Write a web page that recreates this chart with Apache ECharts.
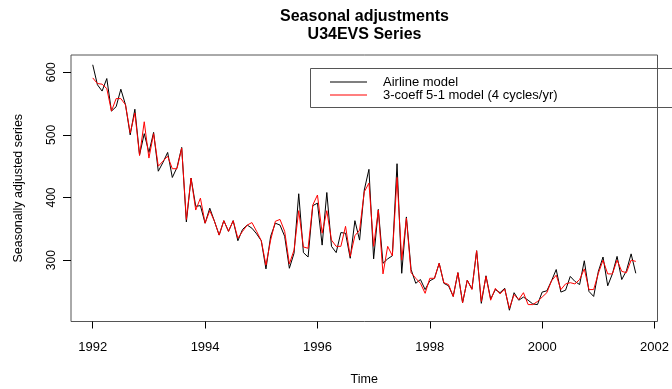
<!DOCTYPE html>
<html>
<head>
<meta charset="utf-8">
<title>Seasonal adjustments</title>
<script src="https://cdn.jsdelivr.net/npm/echarts@6/dist/echarts.min.js"></script>
<style>
  html, body { margin: 0; padding: 0; background: #fff; }
  #chart { width: 672px; height: 389px; }
</style>
</head>
<body>
<div id="chart"></div>
<script>
// monthly series, Jan 1992 .. Sep 2001
const startYear = 1992;

const airline = [
  612, 580, 570, 590, 538, 545, 573, 548, 500, 541, 468, 502,
  472, 504, 442, 456, 472, 432, 448, 480, 361, 431, 386, 387,
  359, 383, 362, 340, 363, 346, 363, 331, 349, 356, 351, 342,
  331, 286, 338, 359, 356, 338, 287, 311, 406, 312, 305, 387,
  391, 324, 408, 322, 312, 344, 343, 303, 363, 332, 412, 445,
  302, 381, 295, 302, 307, 454, 279, 369, 285, 263, 269, 253,
  267, 271, 295, 263, 259, 242, 280, 232, 268, 254, 315, 231,
  275, 238, 253, 248, 255, 220, 248, 236, 241, 236, 230, 229,
  249, 251, 267, 285, 249, 252, 274, 266, 261, 299, 250, 242,
  282, 305, 259, 278, 306, 269, 283, 310, 279
];

const threeCoeff = [
  591, 582, 581, 574, 538, 558, 558, 548, 503, 535, 467, 521,
  463, 502, 450, 458, 466, 446, 446, 479, 365, 431, 380, 399,
  359, 379, 362, 340, 363, 346, 363, 335, 346, 356, 360, 346,
  331, 292, 332, 362, 365, 346, 294, 316, 379, 321, 319, 388,
  404, 343, 379, 332, 322, 322, 354, 306, 339, 348, 409, 423,
  322, 380, 278, 322, 307, 432, 300, 367, 280, 271, 263, 247,
  271, 271, 295, 264, 261, 242, 280, 232, 268, 253, 315, 234,
  274, 236, 255, 246, 254, 223, 245, 237, 248, 229, 229, 234,
  241, 248, 267, 276, 253, 262, 264, 262, 269, 286, 253, 253,
  279, 300, 278, 278, 300, 282, 280, 300, 298
];

const yearTicks = [1992, 1994, 1996, 1998, 2000, 2002];
const valueTicks = [300, 400, 500, 600];

const font = 'Liberation Sans, Arial, Helvetica, sans-serif';

const toPoints = (vals) => vals.map((v, i) => [startYear + i / 12, v]);

const chart = echarts.init(document.getElementById('chart'), null, { renderer: 'canvas' });

chart.setOption({
  animation: false,
  backgroundColor: '#fff',
  grid: {
    left: 71, right: 14.5, top: 55, bottom: 67.5,
    outerBoundsMode: 'none',
    containLabel: false,
    show: true, borderColor: '#555', borderWidth: 1,
    backgroundColor: 'transparent'
  },
  graphic: [
    {
      type: 'text', x: 364.5, y: 9,
      style: {
        text: 'Seasonal adjustments', textAlign: 'center',
        font: 'bold 16px ' + font, fill: '#000'
      }
    },
    {
      type: 'text', x: 364.5, y: 27,
      style: {
        text: 'U34EVS Series', textAlign: 'center',
        font: 'bold 16px ' + font, fill: '#000'
      }
    },
    {
      // legend box, runs off the right edge like the original
      type: 'rect', z: 10,
      shape: { x: 310.5, y: 68.5, width: 380, height: 39 },
      style: { fill: 'none', stroke: '#555', lineWidth: 1 }
    }
  ],
  legend: {
    orient: 'vertical',
    left: 330, top: 75.5,
    padding: 0, itemGap: 0,
    itemWidth: 37, itemHeight: 1,
    icon: 'rect',
    z: 20,
    textStyle: {
      fontFamily: font, fontSize: 13, lineHeight: 12,
      color: '#000', padding: [0, 0, 0, 11]
    },
    data: [
      { name: 'Airline model', itemStyle: { color: '#000' } },
      { name: '3-coeff 5-1 model (4 cycles/yr)', itemStyle: { color: '#ff0000' } }
    ]
  },
  xAxis: {
    type: 'value',
    min: 1991.613, max: 2002.053,
    name: 'Time', nameLocation: 'middle', nameGap: 52,
    nameTextStyle: { fontFamily: font, fontSize: 12.5, color: '#000' },
    axisLine: { show: false },
    splitLine: { show: false },
    axisTick: {
      show: true, length: 7, customValues: yearTicks,
      lineStyle: { color: '#000', width: 1 }
    },
    axisLabel: {
      customValues: yearTicks, margin: 19,
      formatter: (v) => String(v),
      fontFamily: font, fontSize: 13, color: '#000'
    }
  },
  yAxis: {
    type: 'value',
    min: 202, max: 627.6,
    name: 'Seasonally adjusted series', nameLocation: 'middle', nameGap: 46,
    nameTextStyle: { fontFamily: font, fontSize: 12.5, color: '#000' },
    axisLine: { show: false },
    splitLine: { show: false },
    axisTick: {
      show: true, length: 8, customValues: valueTicks,
      lineStyle: { color: '#000', width: 1 }
    },
    axisLabel: {
      customValues: valueTicks, rotate: 90, margin: 13,
      formatter: (v) => String(v),
      fontFamily: font, fontSize: 12, color: '#000'
    }
  },
  series: [
    {
      name: 'Airline model', type: 'line',
      data: toPoints(airline),
      symbol: 'none', color: '#000',
      lineStyle: { color: '#000', width: 1 }, z: 2
    },
    {
      name: '3-coeff 5-1 model (4 cycles/yr)', type: 'line',
      data: toPoints(threeCoeff),
      symbol: 'none', color: '#ff0000',
      lineStyle: { color: '#ff0000', width: 1 }, z: 3
    }
  ]
});
</script>
</body>
</html>
